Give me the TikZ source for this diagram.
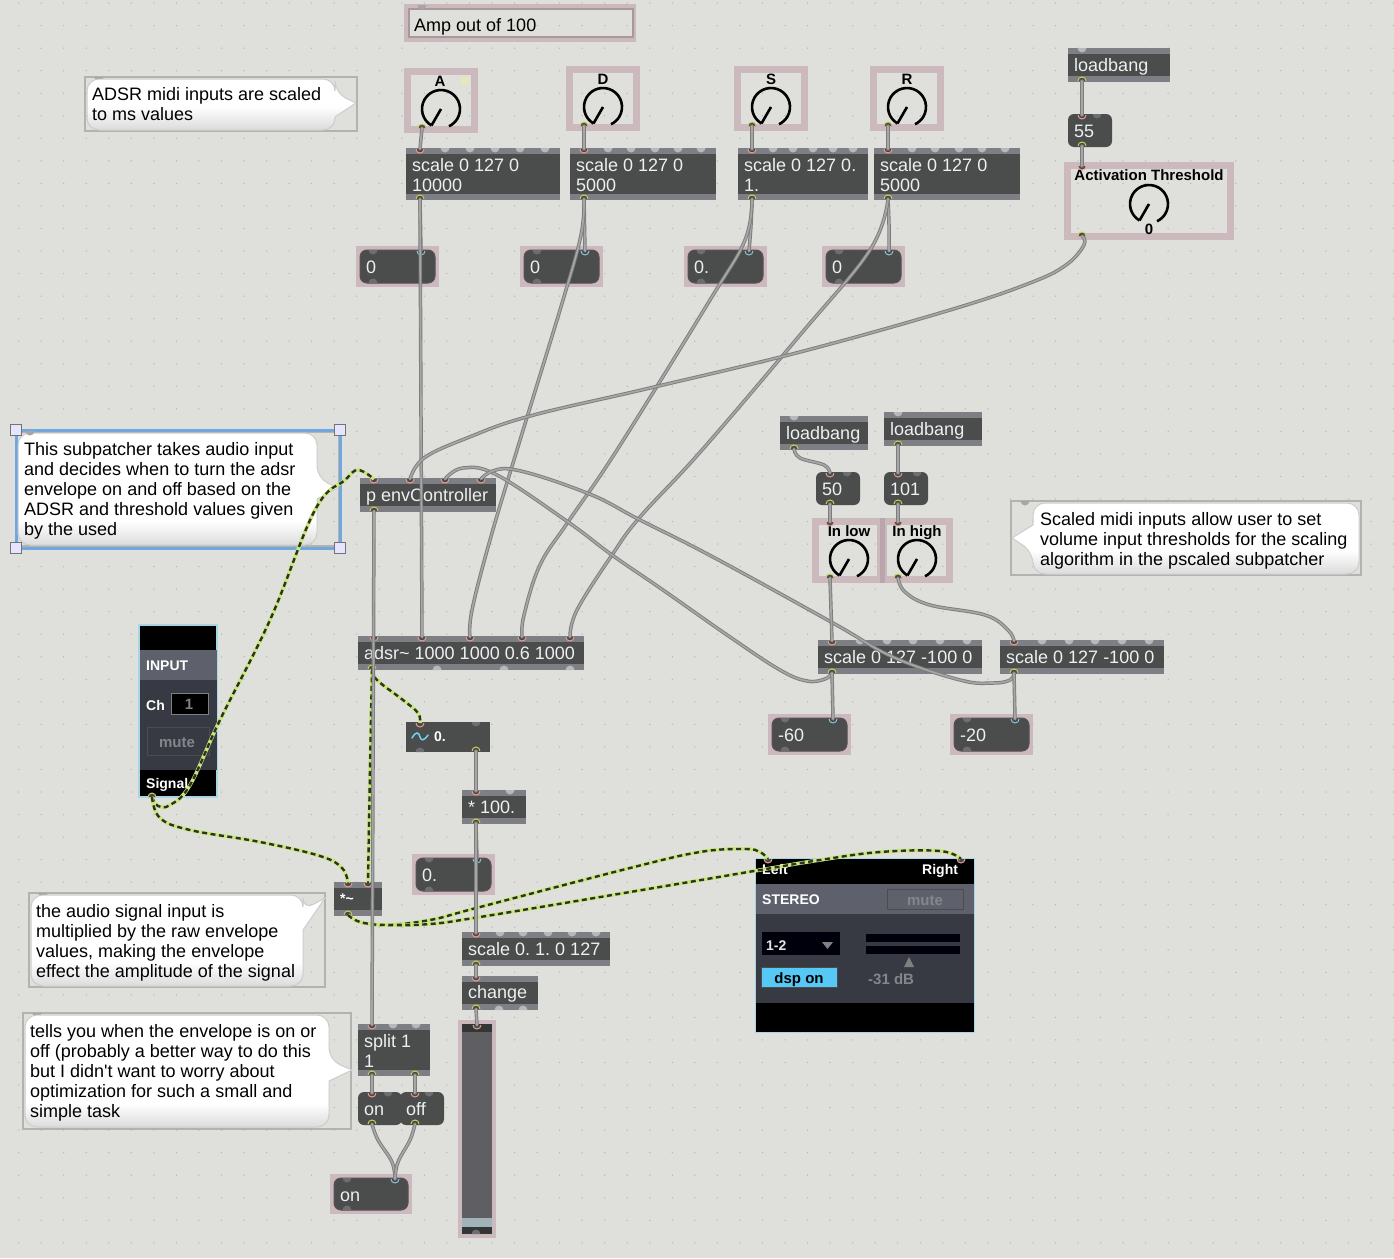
\documentclass[tikz,border=0pt]{standalone}
\usepackage{fontspec}
\setmainfont{Liberation Sans}[Ligatures=TeXOff]
\usetikzlibrary{calc}
\definecolor{bgc}{HTML}{DFE0DB}
\definecolor{dotc}{HTML}{B8B9B3}
\definecolor{objc}{HTML}{4A4D4C}
\definecolor{stripc}{HTML}{7E7F84}
\definecolor{pinkc}{HTML}{CBB9BD}
\definecolor{mauvec}{HTML}{A8989E}
\definecolor{overlapc}{HTML}{BBA5AC}
\definecolor{numedge}{HTML}{5C4F56}
\definecolor{txtc}{HTML}{EDEFF0}
\definecolor{inc}{HTML}{EE9C90}
\definecolor{outc}{HTML}{CFCF52}
\definecolor{numinc}{HTML}{8CC8DA}
\definecolor{portc}{HTML}{44464A}
\definecolor{bumpc}{HTML}{B7B8BA}
\definecolor{bumpd}{HTML}{6E6E72}
\definecolor{framec}{HTML}{B2B3AE}
\definecolor{limec}{HTML}{C9E87A}
\definecolor{sigd}{HTML}{2E3226}
\definecolor{panelb}{HTML}{A9D6E6}
\definecolor{pbar}{HTML}{5E616B}
\definecolor{pdark}{HTML}{373A42}
\definecolor{greyt}{HTML}{84868C}
\definecolor{sldc}{HTML}{5F5E63}
\definecolor{sldk}{HTML}{9FB3B8}
\definecolor{selc}{HTML}{6FA8DE}
\definecolor{dspc}{HTML}{55C8F5}
\definecolor{cordo}{HTML}{7C7C7C}
\definecolor{cordi}{HTML}{A6A6A6}
\newcommand\fs{\frenchspacing\fontsize{18}{20}\selectfont}
\newcommand\fb{\fontsize{14}{17}\selectfont\bfseries}
\newcommand\fc{\fontsize{15}{17}\selectfont\bfseries}
\tikzset{
  x=1pt,y=-1pt,
  wt/.style={font=\fs,text=txtc,inner sep=0pt,anchor=base west},
  bk/.style={font=\fs,text=black,inner sep=0pt,anchor=base west},
  ml/.style={font=\fs,text=black,inner sep=0pt,anchor=north west,align=left},
  mlw/.style={font=\fs,text=txtc,inner sep=0pt,anchor=north west,align=left},
  bw/.style={font=\fb,text=white,inner sep=0pt,anchor=base west},
  bb/.style={font=\fc,text=black,inner sep=0pt,anchor=base},
  bg/.style={font=\fc,text=greyt,inner sep=0pt,anchor=base},
  box/.style={inner sep=0pt,outer sep=0pt,anchor=north west},
  patch/.style={draw=cordo,double=cordi,double distance=1.7pt,line width=0.9pt,line cap=round},
  sig/.style={draw=sigd,line width=2.4pt,dash pattern=on 5pt off 3.5pt,preaction={draw=limec,line width=3.6pt,solid}},
  cmtframe/.style={draw=framec,line width=2pt,box},
  smooth path/.style={smooth,tension=0.65},
}
\newcommand\mobj[5]{%
  \pgfmathsetmacro\ww{#4-#2}\pgfmathsetmacro\hh{#5-#3}%
  \node[box,fill=objc,minimum width=\ww pt,minimum height=\hh pt] (#1) at (#2,#3) {};
  \fill[stripc] (#2,#3) rectangle (#4,{#3+6});
  \fill[stripc] (#2,{#5-6}) rectangle (#4,#5);
}
\newcommand\mmsg[5]{%
  \pgfmathsetmacro\ww{#4-#2}\pgfmathsetmacro\hh{#5-#3}%
  \node[box,fill=objc,rounded corners=6pt,minimum width=\ww pt,minimum height=\hh pt] (#1) at (#2,#3) {};
}
\newcommand\mnum[5]{%
  \pgfmathsetmacro\ww{#4-#2}\pgfmathsetmacro\hh{#5-#3}%
  \node[box,fill=pinkc,minimum width=\ww pt,minimum height=\hh pt] (#1) at (#2,#3) {};
  \fill[objc,draw=numedge,line width=1pt,rounded corners=7pt] ({#2+4},{#3+4}) rectangle ({#4-4},{#5-4});
  \bumpT[bumpd]{#2+17}{#3+4}\bumpB[bumpd]{#2+17}{#5-4}
}
\newcommand\bumpT[3][bumpc]{\fill[#1] ({#2},{#3}) ++(-4.5pt,0) arc[start angle=180,end angle=360,radius=4.5pt] -- cycle;}
\newcommand\bumpB[3][bumpc]{\fill[#1] ({#2},{#3}) ++(-4.5pt,0) arc[start angle=180,end angle=0,radius=4.5pt] -- cycle;}
\newcommand\pin[3]{\coordinate (#1) at (#2,#3);\draw[inc,fill=portc,line width=1pt] (#2,#3) ++(-4pt,0) arc[start angle=180,end angle=360,radius=4pt];}
\newcommand\pnum[3]{\coordinate (#1) at (#2,#3);\draw[numinc,fill=portc,line width=1pt] (#2,#3) ++(-4pt,0) arc[start angle=180,end angle=360,radius=4pt];}
\newcommand\pout[3]{\coordinate (#1) at (#2,#3);\draw[outc,fill=portc,line width=1pt] (#2,#3) ++(-4pt,0) arc[start angle=180,end angle=0,radius=4pt];}
\newcommand\dial[3]{\coordinate (#1) at (#2,#3);
  \draw[black,line width=2.6pt] (#1) ++(240:19pt) arc[start angle=240,end angle=-65,radius=19pt];
  \draw[black,line width=2.6pt] (#1) -- +(240:19pt);}
\newcommand\frameit[5]{%
  \pgfmathsetmacro\ww{#4-#2-7}\pgfmathsetmacro\hh{#5-#3-7}%
  \node[box,draw=pinkc,line width=7pt,minimum width=\ww pt,minimum height=\hh pt] (#1) at ({#2+3.5},{#3+3.5}) {};
}
\newcommand\cframe[5]{%
  \pgfmathsetmacro\ww{#4-#2}\pgfmathsetmacro\hh{#5-#3}%
  \node[cmtframe,minimum width=\ww pt,minimum height=\hh pt] (#1) at (#2,#3) {};
  \bumpT[black!35]{#2+14}{#3}
}
% bubble: #1 path, #2 left, #3 right, #4 bottom
\newcommand\bubble[4]{%
  \fill[white,rounded corners=12pt] #1;
  \begin{scope}
    \clip[rounded corners=12pt] #1;
    \shade[top color=white,bottom color=black!14] (#2,{#4-24}) rectangle (#3,#4);
  \end{scope}
  \draw[black!20,line width=1pt,rounded corners=12pt] #1;
}
\begin{document}
\begin{tikzpicture}
\useasboundingbox (0,0) rectangle (1394,1258);
\fill[bgc] (0,0) rectangle (1394,1258);
% grid dots
\foreach \i in {0,...,62}{\foreach \j in {0,...,56}{%
  \fill[dotc] ({\i*22.54-3.9},{\j*22.54+3.1}) circle (0.75pt);}}

% ---- comments
\node[box,draw=pinkc,line width=4pt,minimum width=228pt,minimum height=34pt] (ampframe) at (406,6) {};
\draw[mauvec,line width=2pt] (409,9) rectangle (633,37);
\bumpT[black!35]{422}{5}
\node[bk] (amp) at (414,31) {Amp out of 100};

\cframe{c1}{85}{77}{357}{131}
\bubble{(87,79) -- (335,79) -- (335,93) [sharp corners] -- (356,103) -- (335,117) [rounded corners=12pt] -- (335,130) -- (87,130) -- cycle}{87}{356}{130}
\node[ml] (c1t) at (92,86) {\strut ADSR midi inputs are scaled\\to ms values};

\draw[framec,line width=1.5pt] (17.5,432) rectangle (338.5,546);
\node[box,draw=selc,line width=3pt,minimum width=324pt,minimum height=118pt] (c2) at (16,430) {};
\bubble{(18,433) -- (317,433) -- (317,478) [sharp corners] -- (338,488) -- (317,499) [rounded corners=12pt] -- (317,545) -- (18,545) -- cycle}{18}{338}{545}
\bumpT[black!35]{30}{431}
\foreach \hx/\hy/\hn in {16/430/ha,340/430/hb,16/548/hc,340/548/hd}{
  \node[box,anchor=center,draw=black!55,line width=1pt,fill=white!90!blue,minimum size=11pt] (\hn) at (\hx,\hy) {};}
\node[ml] (c2t) at (24,441) {\strut This subpatcher takes audio input\\and decides when to turn the adsr\\envelope on and off based on the\\ADSR and threshold values given\\by the used};

\cframe{c3}{1011}{501}{1361}{575}
\bubble{(1033,503) -- (1359,503) -- (1359,574) -- (1033,574) -- (1033,552) [sharp corners] -- (1012,538) -- (1033,525) [rounded corners=12pt] -- cycle}{1012}{1359}{574}
\node[ml] (c3t) at (1040,511) {\strut Scaled midi inputs allow user to set\\volume input thresholds for the scaling\\algorithm in the pscaled subpatcher};

\cframe{c4}{29}{893}{325}{987}
\bubble{(31,895) -- (303,895) -- (303,910) [sharp corners] -- (325,898) -- (303,930) [rounded corners=12pt] -- (303,986) -- (31,986) -- cycle}{31}{325}{986}
\node[ml] (c4t) at (36,903) {\strut the audio signal input is\\multiplied by the raw envelope\\values, making the envelope\\effect the amplitude of the signal};

\cframe{c5}{23}{1013}{351}{1129}
\bubble{(25,1015) -- (329,1015) -- (329,1060) [sharp corners] -- (352,1070) -- (329,1081) [rounded corners=12pt] -- (329,1127) -- (25,1127) -- cycle}{25}{352}{1127}
\node[ml] (c5t) at (30,1023) {\strut tells you when the envelope is on or\\off (probably a better way to do this\\but I didn't want to worry about\\optimization for such a small and\\simple task};

% ---- knobs
\frameit{ka}{404}{68}{478}{133}
\fill[yellow!20!bgc] (461,77) rectangle (469,85);
\node[bb] (kal) at (440,86) {A};
\dial{kac}{441}{109}
\pout{kao}{422}{128}
\frameit{kd}{566}{66}{640}{131}
\node[bb] (kdl) at (603,84) {D};
\dial{kdc}{603}{107}
\pout{kdo}{584}{126}
\frameit{ks}{734}{66}{808}{131}
\node[bb] (ksl) at (771,84) {S};
\dial{ksc}{771}{107}
\pout{kso}{752}{126}
\frameit{kr}{870}{66}{944}{131}
\node[bb] (krl) at (907,84) {R};
\dial{krc}{907}{107}
\pout{kro}{888}{126}

% ---- scale boxes
\mobj{sa}{406}{148}{560}{200}
\foreach \u in {445,470,495,520,545}{\bumpT{\u}{148}}
\pin{sai}{420}{149}\pout{sao}{420}{199}
\node[mlw] (sat) at (412,157) {\strut scale 0 127 0\\10000};
\mobj{sd}{570}{148}{716}{200}
\foreach \u in {608,631,655,678,701}{\bumpT{\u}{148}}
\pin{sdi}{584}{149}\pout{sdo}{584}{199}
\node[mlw] (sdt) at (576,157) {\strut scale 0 127 0\\5000};
\mobj{ss}{738}{148}{868}{200}
\foreach \u in {773,793,813,833,853}{\bumpT{\u}{148}}
\pin{ssi}{752}{149}\pout{sso}{752}{199}
\node[mlw] (sst) at (744,157) {\strut scale 0 127 0.\\1.};
\mobj{sr}{874}{148}{1020}{200}
\foreach \u in {912,935,959,982,1005}{\bumpT{\u}{148}}
\pin{sri}{888}{149}\pout{sro}{888}{199}
\node[mlw] (srt) at (880,157) {\strut scale 0 127 0\\5000};

% ---- number boxes row
\mnum{na}{356}{246}{439}{287}\pnum{nai}{421}{251}
\node[wt] (nat) at (366,273) {0};
\mnum{nd}{520}{246}{603}{287}\pnum{ndi}{585}{251}
\node[wt] (ndt) at (530,273) {0};
\mnum{ns}{684}{246}{767}{287}\pnum{nsi}{749}{251}
\node[wt] (nst) at (694,273) {0.};
\mnum{nr}{822}{246}{905}{287}\pnum{nri}{889}{251}
\node[wt] (nrt) at (832,273) {0};

% ---- top right
\mobj{lb0}{1068}{48}{1170}{82}
\bumpT{1082}{48}\pout{lb0o}{1082}{81}
\node[wt] (lb0t) at (1074,71) {loadbang};
\mmsg{n55}{1068}{114}{1112}{147}
\bumpT[bumpd]{1097}{114}\pin{n55i}{1082}{115}\pout{n55o}{1082}{146}
\node[wt] (n55t) at (1074,137) {55};
\frameit{kat}{1064}{162}{1234}{240}
\node[bb] (katl) at (1149,180) {Activation Threshold};
\dial{katc}{1149}{204}
\node[bb] (katv) at (1149,234) {0};
\pin{kati}{1082}{166}\pout{kato}{1082}{236}

% ---- thresholds
\mobj{lb1}{780}{416}{868}{450}
\bumpT{794}{416}\pout{lb1o}{794}{449}
\node[wt] (lb1t) at (786,439) {loadbang};
\mobj{lb2}{884}{412}{982}{446}
\bumpT{898}{412}\pout{lb2o}{898}{445}
\node[wt] (lb2t) at (890,435) {loadbang};
\mmsg{n50}{816}{472}{860}{505}
\bumpT[bumpd]{847}{472}\pin{n50i}{830}{473}\pout{n50o}{830}{504}
\node[wt] (n50t) at (822,495) {50};
\mmsg{n101}{884}{472}{928}{505}
\bumpT[bumpd]{917}{472}\pin{n101i}{898}{473}\pout{n101o}{898}{504}
\node[wt] (n101t) at (890,495) {101};
\frameit{kl}{812}{518}{884}{583}
\frameit{kh}{880}{518}{953}{583}
\fill[overlapc] (880,518) rectangle (885,583);
\node[bb] (kll) at (849,536) {In low};
\node[bb] (khl) at (917,536) {In high};
\dial{klc}{849}{559}
\dial{khc}{917}{559}
\pin{kli}{830}{522}\pin{khi}{898}{522}
\pout{klo}{830}{578}\pout{kho}{898}{578}
\mobj{sl}{818}{640}{982}{674}
\foreach \u in {860,887,913,940,967}{\bumpT{\u}{640}}
\pin{sli}{832}{641}\pout{slo}{832}{673}
\node[wt] (slt) at (824,663) {scale 0 127 -100 0};
\mobj{sh}{1000}{640}{1164}{674}
\foreach \u in {1042,1069,1095,1122,1149}{\bumpT{\u}{640}}
\pin{shi}{1014}{641}\pout{sho}{1014}{673}
\node[wt] (sht) at (1006,663) {scale 0 127 -100 0};
\mnum{nl}{768}{714}{851}{755}\pnum{nli}{833}{719}
\node[wt] (nlt) at (778,741) {-60};
\mnum{nh}{950}{714}{1033}{755}\pnum{nhi}{1015}{719}
\node[wt] (nht) at (960,741) {-20};

% ---- main column
\mobj{env}{360}{478}{496}{512}
\pin{envi1}{374}{479}\pin{envi2}{410}{479}\pin{envi3}{445}{479}\pin{envi4}{481}{479}\pout{envo}{374}{511}
\node[wt] (envt) at (366,501) {p envController};
\mobj{adsr}{358}{636}{584}{670}
\foreach \u in {437,504,570}{\bumpB{\u}{670}}
\pin{adi1}{374}{637}\pin{adi2}{422}{637}\pin{adi3}{470}{637}\pin{adi4}{522}{637}\pin{adi5}{570}{637}\pout{ado}{372}{669}
\node[wt] (adsrt) at (364,659) {adsr\char`~{} 1000 1000 0.6 1000};
% signal number
\mobj{snum}{406}{722}{490}{752}
\fill[objc] (406,722) rectangle (490,752);
\bumpT[bumpd]{476}{722}\bumpB[bumpd]{420}{752}
\pin{snumi}{420}{723}\pout{snumo}{476}{751}
\draw[cyan!55!white,line width=1.5pt,line cap=round] (412,738) .. controls (416,731) and (419,732) .. (420,737) .. controls (421,741) and (424,741) .. (428,735);
\node[bw] (snumt) at (434,741.5) {0.};
\mobj{times}{462}{790}{526}{824}
\bumpT{510}{790}\pin{timesi}{476}{791}\pout{timeso}{476}{823}
\node[wt] (timest) at (468,813) {* 100.};
\mnum{nv}{412}{854}{495}{895}\pnum{nvi}{477}{859}
\node[wt] (nvt) at (422,881) {0.};
\mobj{s01}{462}{932}{610}{966}
\foreach \u in {500,523,548,572,596}{\bumpT{\u}{932}}
\pin{s01i}{476}{933}\pout{s01o}{476}{965}
\node[wt] (s01t) at (468,955) {scale 0. 1. 0 127};
\mobj{chg}{462}{976}{538}{1010}
\foreach \u in {499,523}{\bumpB{\u}{1010}}
\pin{chgi}{476}{977}\pout{chgo}{476}{1009}
\node[wt] (chgt) at (468,998) {change};
% slider
\node[box,fill=pinkc,minimum width=38pt,minimum height=218pt] (sld) at (458,1020) {};
\fill[objc!70!black] (462,1024) rectangle (492,1234);
\fill[sldc] (462,1032) rectangle (492,1218);
\fill[sldk] (462,1218) rectangle (492,1227);
\bumpB[bumpd]{476}{1234}
\pin{sldi}{477}{1025}
% *~
\mobj{mul}{334}{882}{382}{916}
\pin{muli1}{348}{883}\pin{muli2}{368}{883}\pout{mulo}{348}{915}
\node[bw] (mult) at (340,903) {*\char`~};
% split
\mobj{spl}{358}{1024}{430}{1076}
\foreach \u in {393,416}{\bumpT{\u}{1024}}
\pin{spli}{372}{1025}\pout{splo1}{372}{1075}\pout{splo2}{415}{1075}
\node[mlw] (splt) at (364,1033) {\strut split 1\\1};
\mmsg{mon}{358}{1092}{402}{1125}
\bumpT[bumpd]{388}{1092}\pin{moni}{372}{1093}\pout{mono}{372}{1124}
\node[wt] (mont) at (364,1115) {on};
\mmsg{moff}{400}{1092}{444}{1125}
\bumpT[bumpd]{429}{1092}\pin{moffi}{415}{1093}\pout{moffo}{415}{1124}
\node[wt] (mofft) at (406,1115) {off};
\mnum{nb}{330}{1174}{412}{1214}\pnum{nbi}{395}{1179}
\node[wt] (nbt) at (340,1201) {on};

% ---- INPUT panel
\node[box,fill=black,draw=panelb,line width=1.5pt,minimum width=78pt,minimum height=172pt] (inp) at (139,625) {};
\fill[pbar] (140,650) rectangle (217,680);
\fill[pdark] (140,680) rectangle (217,770);
\node[bw] (inpt) at (146,670) {INPUT};
\node[bw] (cht) at (146,710) {Ch};
\node[box,fill=black,draw=gray,line width=1pt,minimum width=37pt,minimum height=21pt] (chb) at (171,693) {};
\node[bg,text=gray] (chv) at (189,709) {1};
\node[box,fill=pdark,draw=black!70,line width=1pt,minimum width=62pt,minimum height=28pt] (inm) at (147,727) {};
\node[bg] (inmt) at (177,747) {mute};
\node[bw] (sigt) at (146,788) {Signal};
\pout{inpo}{152}{797}

% ---- STEREO panel
\node[box,fill=black,draw=panelb,line width=1.5pt,minimum width=219pt,minimum height=174pt] (ster) at (755.5,858.5) {};
\fill[pbar] (756,884) rectangle (974,914);
\fill[pdark] (756,914) rectangle (974,1003);
\node[bw] (lt) at (762,874) {Left};
\node[bw] (rt) at (922,874) {Right};
\node[bw] (stt) at (762,904) {STEREO};
\node[box,fill=pbar,draw=black!70,line width=1pt,minimum width=76pt,minimum height=20pt] (stm) at (887,889) {};
\node[bg] (stmt) at (925,905) {mute};
\node[box,fill=black!95!blue,minimum width=78pt,minimum height=23pt] (menu) at (762,932) {};
\node[bw,text=white!80!gray] (menut) at (766,950) {1-2};
\fill[gray] (822,942) -- (833,942) -- (827.5,949) -- cycle;
\fill[black!95!blue] (866,934) rectangle (960,942);
\fill[black!95!blue] (866,946) rectangle (960,954);
\fill[gray] (904,967) -- (914,967) -- (909,957) -- cycle;
\node[bg,anchor=base west] (dbt) at (868,984) {-31 dB};
\node[box,fill=dspc,draw=black!70,line width=0.8pt,minimum width=76pt,minimum height=20pt] (dsp) at (761,967) {};
\node[bb] (dspt) at (799,983) {dsp on};
\pin{sli1}{768}{859}\pin{sri1}{961}{859}

% ---- cords
\draw[sig] plot[smooth path] coordinates {(ado) (377,680) (403,700) (418,713) (snumi)};
\draw[sig] plot[smooth path] coordinates {(ado) (370,770) (muli2)};
\draw[sig] plot[smooth path] coordinates {(inpo) (158,806) (170,805) (190,785) (220,720) (270,620) (315,510) (345,480) (358,470) (envi1)};
\draw[sig] plot[smooth path] coordinates {(inpo) (160,818) (190,830) (260,842) (320,856) (342,868) (muli1)};
\draw[sig] plot[smooth path] coordinates {(mulo) (360,922) (385,925) (430,920) (480,907) (630,868) (700,852) (745,849) (760,852) (sli1)};
\draw[sig] plot[smooth path] coordinates {(mulo) (360,922) (385,925) (430,924) (480,917) (630,892) (760,870) (820,860) (880,852) (940,851) (sri1)};

\draw[patch] (kao) -- (sai);
\draw[patch] (kdo) -- (sdi);
\draw[patch] (kso) -- (ssi);
\draw[patch] (kro) -- (sri);
\draw[patch] (sao) -- (nai);
\draw[patch] (sdo) -- (ndi);
\draw[patch] plot[smooth path] coordinates {(sso) (751,225) (nsi)};
\draw[patch] plot[smooth path] coordinates {(sro) (889,225) (nri)};
\draw[patch] (sao) -- (adi2);
\draw[patch] plot[smooth path] coordinates {(sdo) (581,235) (563,300) (517,450) (490,540) (472,610) (adi3)};
\draw[patch] plot[smooth path] coordinates {(sso) (745,240) (710,300) (617,450) (568,522) (540,565) (524,615) (adi4)};
\draw[patch] plot[smooth path] coordinates {(sro) (870,250) (800,335) (702,450) (640,517) (612,555) (577,610) (adi5)};
\draw[patch] plot[smooth path] coordinates {(kato) (1084,245) (1066,265) (1030,283) (950,310) (800,352) (650,388) (530,416) (467,438) (424,458) (envi2)};
\draw[patch] plot[smooth path] coordinates {(envi3) (463,468) (497,475) (568,522) (612,555) (663,590) (730,637) (780,670) (807,681) (825,679) (slo)};
\draw[patch] plot[smooth path] coordinates {(envi4) (510,469) (587,493) (640,520) (713,557) (833,623) (893,657) (960,680) (993,683) (1010,680) (sho)};
\draw[patch] (envo) -- (spli);
\draw[patch] (lb0o) -- (n55i);
\draw[patch] (n55o) -- (kati);
\draw[patch] plot[smooth path] coordinates {(lb1o) (800,458) (824,465) (n50i)};
\draw[patch] (lb2o) -- (n101i);
\draw[patch] (n50o) -- (kli);
\draw[patch] (n101o) -- (khi);
\draw[patch] (klo) -- (sli);
\draw[patch] plot[smooth path] coordinates {(kho) (905,592) (930,605) (985,615) (1008,630) (shi)};
\draw[patch] (slo) -- (nli);
\draw[patch] (sho) -- (nhi);
\draw[patch] (snumo) -- (timesi);
\draw[patch] (timeso) -- (nvi);
\draw[patch] (timeso) -- (s01i);
\draw[patch] (s01o) -- (chgi);
\draw[patch] (chgo) -- (sldi);
\draw[patch] (splo1) -- (moni);
\draw[patch] (splo2) -- (moffi);
\draw[patch] plot[smooth path] coordinates {(mono) (378,1140) (392,1162) (nbi)};
\draw[patch] plot[smooth path] coordinates {(moffo) (410,1140) (398,1162) (nbi)};
\end{tikzpicture}
\end{document}
